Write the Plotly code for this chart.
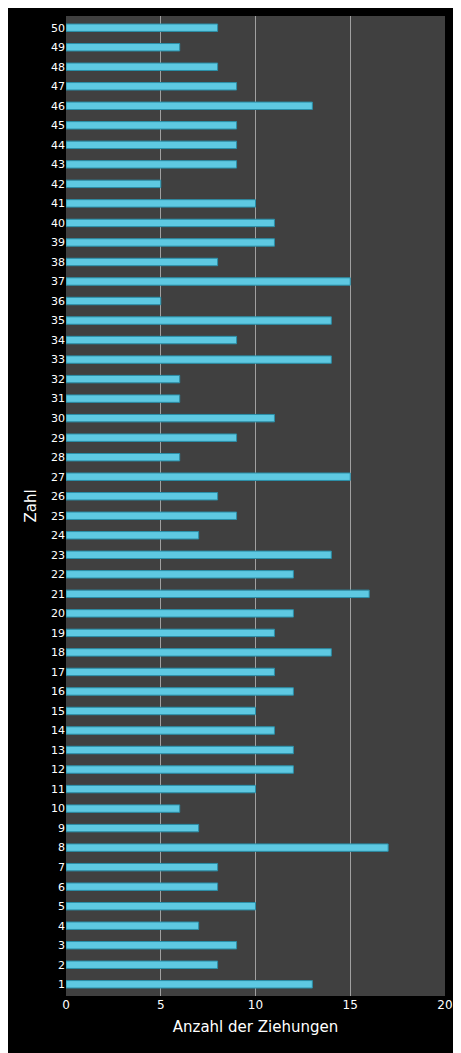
import plotly.graph_objects as go

zahlen = list(range(1, 51))
anzahl = [13, 8, 9, 7, 10, 8, 8, 17, 7, 6,
          10, 12, 12, 11, 10, 12, 11, 14, 11, 12,
          16, 12, 14, 7, 9, 8, 15, 6, 9, 11,
          6, 6, 14, 9, 14, 5, 15, 8, 11, 11,
          10, 5, 9, 9, 9, 13, 9, 8, 6, 8]

fig = go.Figure(go.Bar(
    x=anzahl, y=zahlen, orientation="h",
    marker=dict(color="#5ec9e2", line=dict(color="#2a8fa8", width=1)),
))
fig.update_layout(
    width=453, height=1045,
    margin=dict(l=58, r=13, t=8, b=57),
    paper_bgcolor="black", plot_bgcolor="#404040",
    bargap=0.62, showlegend=False,
    font=dict(family="DejaVu Sans", color="white", size=12),
)
fig.update_xaxes(range=[0, 20], dtick=5, showgrid=True, gridcolor="#a0a0a0", gridwidth=1,
                 zeroline=False, ticks="", title=dict(text="Anzahl der Ziehungen", font=dict(size=15), standoff=10),
                 tickfont=dict(size=12))
fig.update_yaxes(range=[0.4, 50.6], tickvals=zahlen, showgrid=False, zeroline=False,
                 ticks="", title=dict(text="Zahl", font=dict(size=15), standoff=10),
                 tickfont=dict(size=11))
fig.write_html("out.html")
